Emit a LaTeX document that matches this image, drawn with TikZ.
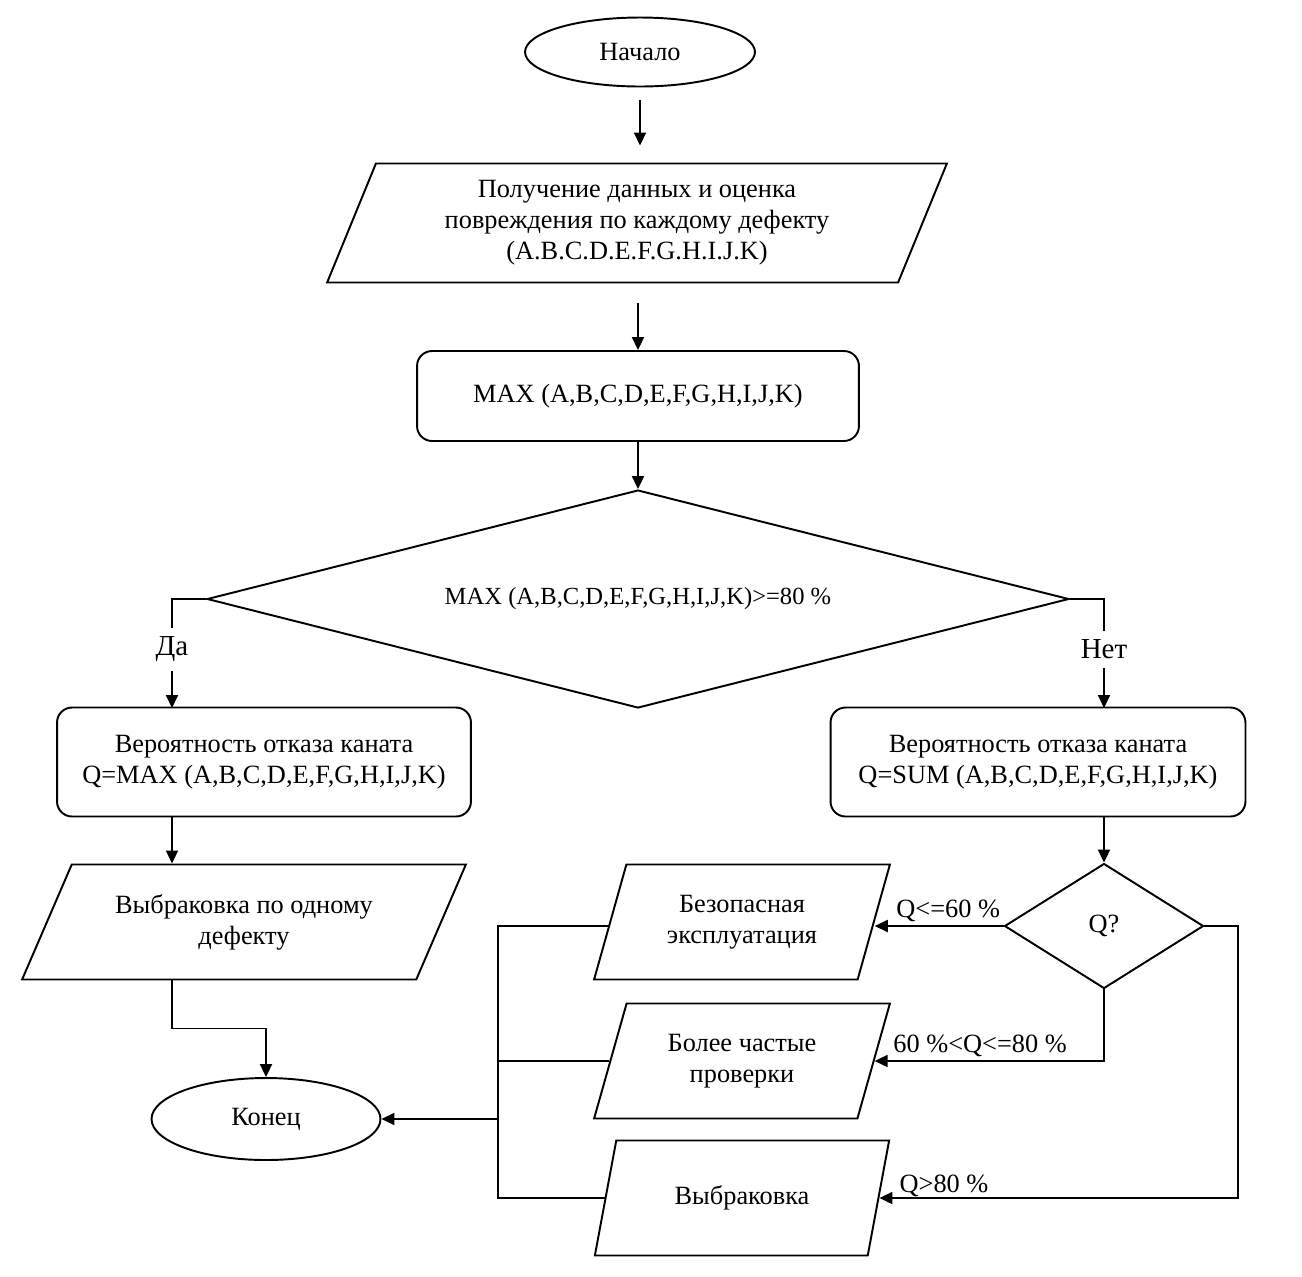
\documentclass[tikz,border=0pt]{standalone}
\usepackage{fontspec}
\setmainfont{Liberation Serif}
\usetikzlibrary{positioning,shapes.geometric,arrows.meta}

\begin{document}
\begin{tikzpicture}[
  x=0.02cm, y=-0.02cm, line width=1.1pt,
  every node/.style={font=\fontsize{15}{17.6}\selectfont},
  term/.style={draw, ellipse, minimum width=4.6cm, minimum height=1.38cm},
  proc/.style={draw, rounded corners=0.3cm, align=center, minimum height=2.18cm},
  io/.style={draw, trapezium, trapezium stretches=true, align=center},
  small/.style={io, minimum width=5.92cm, minimum height=2.3cm,
    trapezium left angle=71, trapezium right angle=109},
  cond/.style={draw, diamond, inner sep=0pt, align=center},
  arr/.style={-{Triangle[length=2.6mm,width=2.4mm]}},
  lab/.style={fill=white, inner ysep=5pt, font=\fontsize{16.5}{19}\selectfont},
  qlab/.style={above, inner sep=2pt}
]
\useasboundingbox (0,0) rectangle (1302,1276);

\node[term] (start) at (640,52) {Начало};
\node[io, minimum width=12.44cm, minimum height=2.38cm,
  trapezium left angle=69, trapezium right angle=111] (in1) at (637,223)
  {Получение данных и оценка\\повреждения по каждому дефекту\\(A.B.C.D.E.F.G.H.I.J.K)};
\node[proc, minimum width=8.84cm, minimum height=1.8cm] (mx) at (638,396)
  {MAX (A,B,C,D,E,F,G,H,I,J,K)};
\node[cond, minimum width=17.24cm, minimum height=4.36cm, aspect=3.95,
  font=\fontsize{14}{16}\selectfont] (d1) at (638,599)
  {MAX (A,B,C,D,E,F,G,H,I,J,K)>=80 \%};
\node[proc, minimum width=8.28cm] (yes) at (264,762)
  {Вероятность отказа каната\\Q=MAX (A,B,C,D,E,F,G,H,I,J,K)};
\node[proc, minimum width=8.3cm] (no) at (1038,762)
  {Вероятность отказа каната\\Q=SUM (A,B,C,D,E,F,G,H,I,J,K)};
\node[io, minimum width=8.9cm, minimum height=2.3cm,
  trapezium left angle=60, trapezium right angle=120] (out1) at (244,922)
  {Выбраковка по одному\\дефекту};
\node[term, minimum width=4.58cm, minimum height=1.64cm] (end) at (266,1119) {Конец};
\node[cond, minimum width=3.98cm, minimum height=2.5cm, aspect=1.6] (q) at (1104,926) {Q?};
\node[small] (safe) at (742,922) {Безопасная\\эксплуатация};
\node[small] (freq) at (742,1061) {Более частые\\проверки};
\node[small] (rej) at (742,1198) {Выбраковка};

\coordinate (ya) at (172,708);
\coordinate (na) at (1104,708);
\coordinate (bus) at (498,1119);

\draw[arr, shorten <=0.26cm, shorten >=0.34cm] (start.south) -- (start.south |- in1.north);
\draw[arr, shorten <=0.4cm] (in1.south -| mx.north) -- (mx.north);
\draw[arr] (mx.south) -- (d1.north);
\draw[arr] (d1.west) -| (ya) node[pos=0.73, lab] {Да};
\draw[arr] (d1.east) -| (na) node[pos=0.73, lab] {Нет};
\draw[arr] (yes.south -| ya) -- (out1.north -| ya);
\draw[arr] (out1.south -| ya) -- ++(0,48) -| (end.north);
\draw[arr] (no.south -| na) -- (q.north);
\draw[arr] (q.west) -- (q.west -| safe.east) node[pos=0.43, qlab] {Q<=60 \%};
\draw[arr] (q.south) |- (freq.east) node[pos=0.77, qlab] {60 \%<Q<=80 \%};
\draw[arr] (q.east) -- ++(34,0) |- (rej.east) node[pos=0.91, qlab, inner sep=0pt] {Q>80 \%};
\draw (safe.west |- q.west) -| (bus);
\draw (rej.west) -| (bus);
\draw (freq.west) -- (freq.west -| bus);
\draw[arr] (bus) -- (end.east);
\end{tikzpicture}
\end{document}
